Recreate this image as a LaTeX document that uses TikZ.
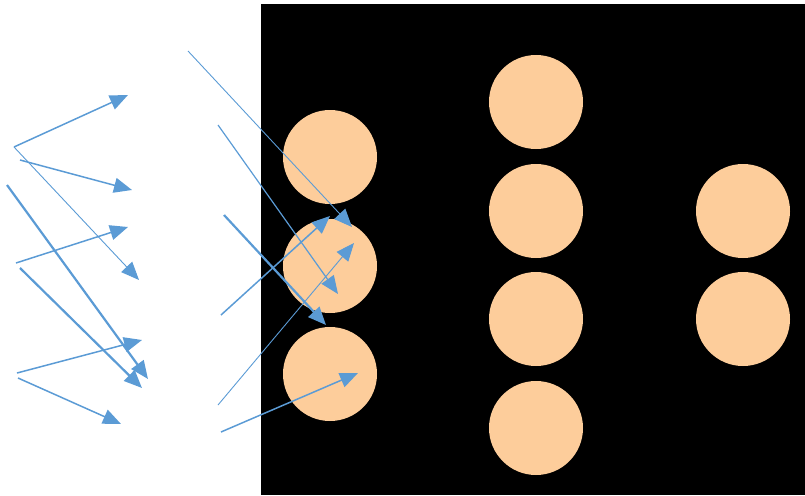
\documentclass[tikz,border=0pt]{standalone}
\usetikzlibrary{arrows.meta}
\definecolor{peach}{RGB}{253,205,155}
\definecolor{arrowblue}{RGB}{91,155,213}
\tikzset{
  neuron/.style={circle, fill=peach, draw=none, minimum size=94pt, inner sep=0pt},
  link/.style={draw=arrowblue, line width=1.5pt, -{Triangle[length=18pt,width=15pt]}},
  thinlink/.style={link, line width=0.9pt},
  thicklink/.style={link, line width=2.2pt},
}
\begin{document}
\begin{tikzpicture}[x=1pt,y=-1pt]
\useasboundingbox (0,0) rectangle (805,495);
% dark panel
\fill[black] (261,4) rectangle (805,495);

% first layer
\node[neuron] (a1) at (330,157) {};
\node[neuron] (a2) at (330,266) {};
\node[neuron] (a3) at (330,374) {};
% second layer
\node[neuron] (b1) at (536,102) {};
\node[neuron] (b2) at (536,211) {};
\node[neuron] (b3) at (536,319) {};
\node[neuron] (b4) at (536,428) {};
% third layer
\node[neuron] (c1) at (743,211) {};
\node[neuron] (c2) at (743,319) {};

% arrow end points, left group
\coordinate (s1) at (14,147);   \coordinate (t1) at (128,95);
\coordinate (s2) at (20,160);   \coordinate (t2) at (132,190);
\coordinate (s3) at (14,147);   \coordinate (t3) at (139,280);
\coordinate (s4) at (7,185);    \coordinate (t4) at (148,379);
\coordinate (s5) at (16,263);   \coordinate (t5) at (128,227);
\coordinate (s6) at (20,268);   \coordinate (t6) at (142,388);
\coordinate (s7) at (17,373);   \coordinate (t7) at (142,340);
\coordinate (s8) at (18,378);   \coordinate (t8) at (121,424);
% arrow end points, middle group
\coordinate (m1) at (188,51);   \coordinate (n1) at (352,227);
\coordinate (m2) at (218,125);  \coordinate (n2) at (338,294);
\coordinate (m3) at (224,215);  \coordinate (n3) at (326,325);
\coordinate (m4) at (221,315);  \coordinate (n4) at (330,216);
\coordinate (m5) at (218,405);  \coordinate (n5) at (354,243);
\coordinate (m6) at (221,432);  \coordinate (n6) at (358,373);

\draw[link] (s1) -- (t1);
\draw[link] (s2) -- (t2);
\draw[thinlink] (s3) -- (t3);
\draw[thicklink] (s4) -- (t4);
\draw[link] (s5) -- (t5);
\draw[thicklink] (s6) -- (t6);
\draw[link] (s7) -- (t7);
\draw[link] (s8) -- (t8);

\draw[thinlink] (m1) -- (n1);
\draw[link, line width=1.2pt] (m2) -- (n2);
\draw[thicklink] (m3) -- (n3);
\draw[link] (m4) -- (n4);
\draw[thinlink] (m5) -- (n5);
\draw[link] (m6) -- (n6);
\end{tikzpicture}
\end{document}
